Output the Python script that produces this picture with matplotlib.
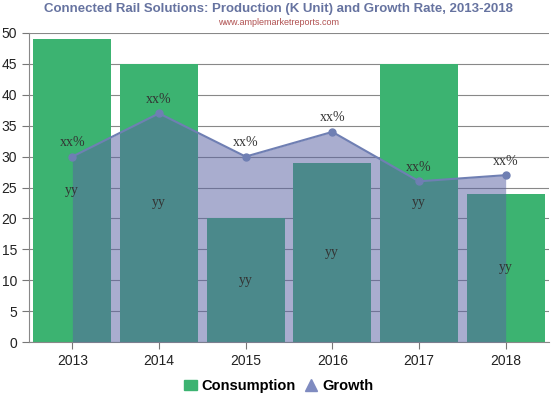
import matplotlib.pyplot as plt
import numpy as np
from matplotlib.lines import Line2D
from matplotlib.patches import Patch

# data
years = ['2013', '2014', '2015', '2016', '2017', '2018']
consumption = [49, 45, 20, 29, 45, 24]
growth = [30, 37, 30, 34, 26, 27]
growth_labels = ['xx%'] * 6
bar_labels = ['yy'] * 6

plt.rcParams['font.family'] = ['Liberation Sans', 'DejaVu Sans']

fig = plt.figure(figsize=(5.57, 3.95), dpi=100)
ax = fig.add_axes([29 / 557, 53 / 395, 520 / 557, 309 / 395])

x = np.arange(len(years))
green = '#3cb371'
blue = '#6f7fb3'

ax.bar(x, consumption, width=0.9, color=green, zorder=2)
ax.fill_between(x, growth, 0, color='#5a63a3', alpha=0.52, zorder=3, linewidth=0)
ax.plot(x, growth, color=blue, lw=1.5, marker='o', ms=5, zorder=4)

for i in range(len(years)):
    ax.text(x[i], growth[i] + 1.2, growth_labels[i], ha='center', va='bottom',
            family='Liberation Serif', fontsize=10, color='#333333', zorder=5)
    ax.text(x[i], consumption[i] / 2, bar_labels[i], ha='center', va='center',
            family='Liberation Serif', fontsize=10, color='#333333', zorder=5)

ax.set_xlim(-0.5, len(years) - 0.5)
ax.set_ylim(0, 50)
ax.set_yticks(range(0, 51, 5))
ax.set_xticks(x)
ax.set_xticklabels(years)
ax.tick_params(labelsize=10, colors='#222222', length=5, color='#777777')
ax.grid(axis='y', color='#888888', lw=0.8, zorder=1)
for s in ['top', 'right']:
    ax.spines[s].set_visible(False)
ax.spines['left'].set_color('#888888')
ax.spines['bottom'].set_color('#888888')

fig.text(0.5, 0.978, 'Connected Rail Solutions: Production (K Unit) and Growth Rate, 2013-2018',
         ha='center', va='center', fontsize=9.5, fontweight='bold', color='#6673a0')
fig.text(0.5, 0.943, 'www.amplemarketreports.com', ha='center', va='center',
         fontsize=6.5, color='#b05050')

handles = [Patch(color=green),
           Line2D([], [], marker='^', color='#7f8bc0', ls='none', ms=8)]
fig.legend(handles, ['Consumption', 'Growth'], loc='center', bbox_to_anchor=(0.5, 0.023),
           ncol=2, frameon=False, prop={'weight': 'bold', 'size': 10.5},
           handlelength=0.9, handletextpad=0.3, columnspacing=0.6)

fig.savefig('out.png', dpi=100)
